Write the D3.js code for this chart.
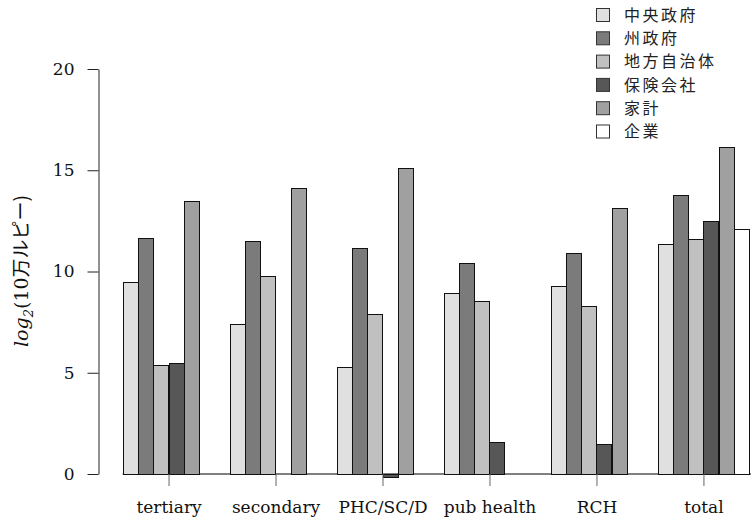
<!DOCTYPE html>
<html><head><meta charset="utf-8">
<script src="https://cdn.jsdelivr.net/npm/d3@7"></script>
<style>
body{margin:0;background:#fff;}
svg text{font-family:"DejaVu Serif",serif;}
.jp{font-family:"Noto Sans CJK JP",sans-serif;}
</style></head>
<body>
<svg id="c" width="751" height="522"></svg>
<script>
const categories = ["tertiary","secondary","PHC/SC/D","pub health","RCH","total"];
const seriesNames = ["中央政府","州政府","地方自治体","保険会社","家計","企業"];
const seriesColors = ["#e0e0e0","#7b7b7b","#c0c0c0","#575757","#a0a0a0","#ffffff"];
// values per series, one per category (null = no bar)
const central   = [9.5, 7.42, 5.26, 8.95, 9.28, 11.36];
const state     = [11.66, 11.51, 11.17, 10.43, 10.92, 13.79];
const local     = [5.4, 9.77, 7.92, 8.54, 8.29, 11.61];
const insurance = [5.47, null, -0.16, 1.56, 1.48, 12.48];
const household = [13.46, 14.12, 15.11, null, 13.12, 16.16];
const firms     = [null, null, null, null, null, 12.1];
const yTicks = [0,5,10,15,20];
const seriesValues = [central, state, local, insurance, household, firms];

const svg = d3.select("#c");
const y = d3.scaleLinear().domain([0,20]).range([474,69]);
const xg = d3.scaleBand().domain(categories).range([107.4,749.3])
  .paddingInner(1/7).paddingOuter(0.5/7).align(1);
const xs = d3.scaleBand().domain(d3.range(seriesNames.length)).range([0,xg.bandwidth()]).padding(0);

// baseline
svg.append("line").attr("x1",xg(categories[0])).attr("x2",751)
  .attr("y1",y(0)).attr("y2",y(0)).attr("stroke","#000").attr("stroke-width",1);

// bars
const data = [];
categories.forEach((c,gi)=>{
  seriesValues.forEach((vals,si)=>{
    const v = vals[gi];
    if(v!==null) data.push({c,si,v});
  });
});
svg.append("g").selectAll("rect").data(data).join("rect")
  .attr("x",d=>Math.round(xg(d.c)+xs(d.si))+0.5)
  .attr("width",d=>Math.round(xs.bandwidth()))
  .attr("y",d=>Math.round(y(Math.max(0,d.v)))+0.5)
  .attr("height",d=>Math.max(1,Math.round(Math.abs(y(d.v)-y(0)))))
  .attr("fill",d=>seriesColors[d.si])
  .attr("stroke","#111").attr("stroke-width",1);

// x ticks & labels
const xa = svg.append("g").attr("transform",`translate(0,${y(0)})`)
  .call(d3.axisBottom(d3.scalePoint().domain(categories).range([xg(categories[0])+xg.bandwidth()/2, xg(categories[5])+xg.bandwidth()/2]))
    .tickSize(12).tickPadding(15));
xa.select(".domain").remove();
xa.selectAll(".tick line").attr("stroke","#666");
xa.selectAll(".tick text").attr("font-size",17).attr("font-family","DejaVu Serif").attr("fill","#111");

// y axis
const ya = svg.append("g").attr("transform","translate(98.5,0)")
  .call(d3.axisLeft(y).tickValues(yTicks).tickSize(11).tickPadding(13).tickSizeOuter(0));
ya.select(".domain").attr("stroke","#222");
ya.selectAll(".tick line").attr("stroke","#222");
ya.selectAll(".tick text").attr("font-size",17).attr("font-family","DejaVu Serif").attr("fill","#111");

// y label
const yl = svg.append("text").attr("transform","translate(28,271) rotate(-90)")
  .attr("text-anchor","middle").attr("font-size",19).attr("fill","#111");
yl.append("tspan").attr("font-style","italic").text("log");
yl.append("tspan").attr("font-size",13).attr("dy",5).attr("font-style","italic").text("2");
yl.append("tspan").attr("dy",-5).text("(10");
yl.append("tspan").attr("class","jp").text("万ルピー)");

// legend
const lg = svg.append("g").selectAll("g").data(seriesNames).join("g")
  .attr("transform",(d,i)=>`translate(596,${15+i*23.3})`);
lg.append("rect").attr("x",0.5).attr("y",-6.5).attr("width",13).attr("height",13)
  .attr("fill",(d,i)=>seriesColors[i]).attr("stroke","#333");
lg.append("text").attr("class","jp").attr("x",28).attr("y",0).attr("dy","0.36em")
  .attr("font-size",16).attr("letter-spacing",2.5).attr("fill","#222").text(d=>d);
</script>
</body></html>
